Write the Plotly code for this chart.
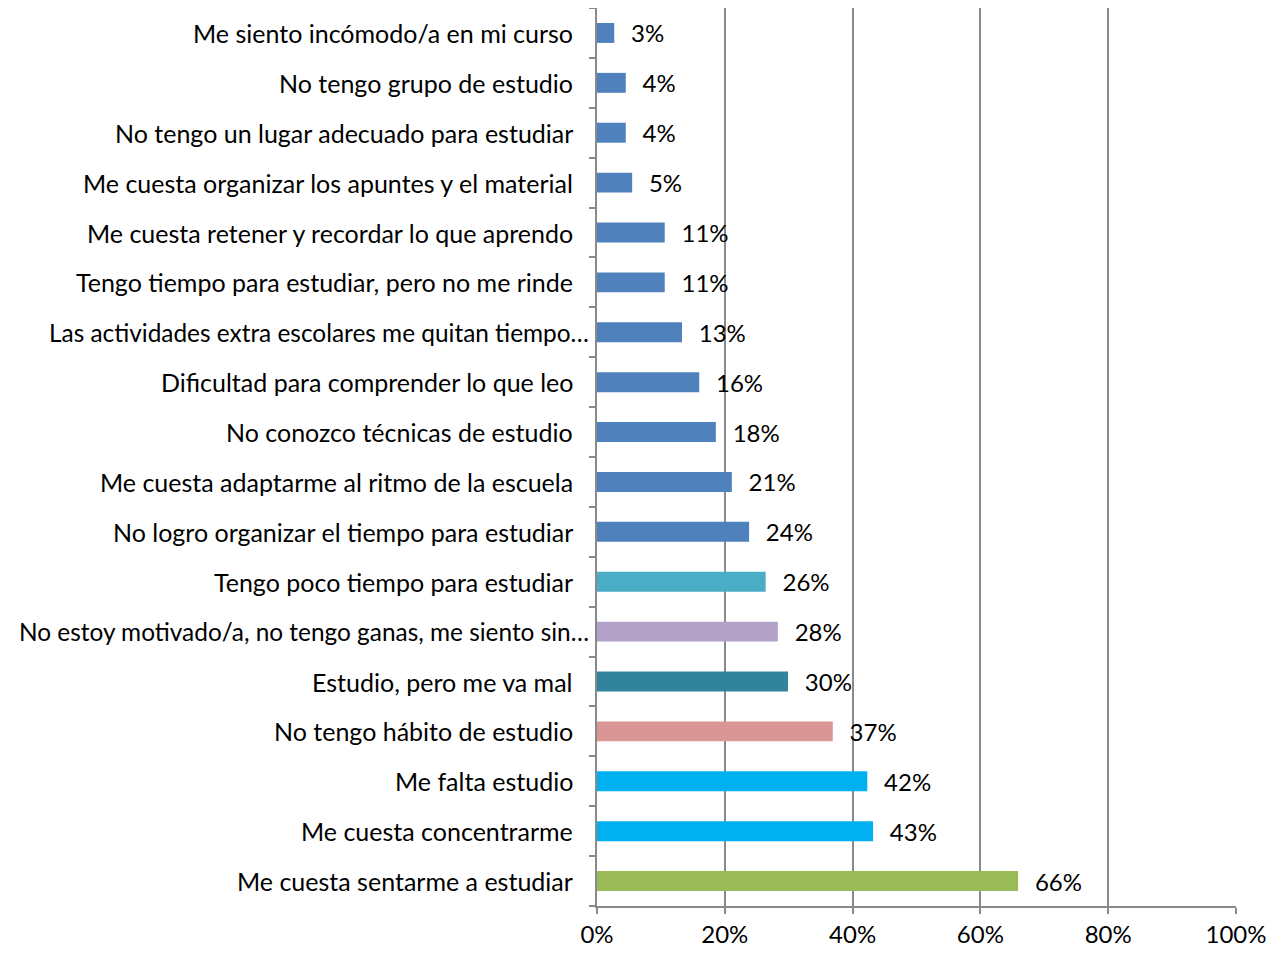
import plotly.graph_objects as go

# Categories listed bottom to top (plotly draws first category at the bottom)
categorias = [
    "Me cuesta sentarme a estudiar",
    "Me cuesta concentrarme",
    "Me falta estudio",
    "No tengo hábito de estudio",
    "Estudio, pero me va mal",
    "No estoy motivado/a, no tengo ganas, me siento sin…",
    "Tengo poco tiempo para estudiar",
    "No logro organizar el tiempo para estudiar",
    "Me cuesta adaptarme al ritmo de la escuela",
    "No conozco técnicas de estudio",
    "Dificultad para comprender lo que leo",
    "Las actividades extra escolares me quitan tiempo…",
    "Tengo tiempo para estudiar, pero no me rinde",
    "Me cuesta retener y recordar lo que aprendo",
    "Me cuesta organizar los apuntes y el material",
    "No tengo un lugar adecuado para estudiar",
    "No tengo grupo de estudio",
    "Me siento incómodo/a en mi curso",
]
valores = [0.659, 0.432, 0.423, 0.369, 0.299, 0.283, 0.264, 0.238, 0.211,
           0.186, 0.160, 0.133, 0.106, 0.106, 0.055, 0.045, 0.045, 0.027]
etiquetas = ["66%", "43%", "42%", "37%", "30%", "28%", "26%", "24%", "21%",
             "18%", "16%", "13%", "11%", "11%", "5%", "4%", "4%", "3%"]
colores = ["#9BBB59", "#00B0F0", "#00B0F0", "#D99694", "#31849B", "#B2A2C7",
           "#4BACC6"] + ["#4F81BD"] * 11

FONT = "Lato, Carlito, Calibri, sans-serif"
GRIS = "#8A8A8A"

fig = go.Figure(go.Bar(
    x=valores,
    y=categorias,
    orientation="h",
    marker=dict(color=colores, line=dict(width=0)),
    width=0.4,
    text=["\u00a0\u00a0\u200a" + t for t in etiquetas],
    textposition="outside",
    constraintext="none",
    cliponaxis=False,
    textfont=dict(family=FONT, size=24, color="#000000"),
))

# category labels as annotations: Excel sets truncated ("…") labels closer to the axis
for cat in categorias:
    truncada = cat.endswith("…")
    fig.add_annotation(
        x=0, xref="paper", y=cat, yref="y",
        text=cat, showarrow=False,
        xanchor="right", yanchor="middle",
        xshift=-6 if truncada else -22,
        font=dict(family=FONT, size=24.4 if truncada else 25, color="#000000"),
    )

# page body has an 8px margin, so the figure is shrunk to fit the window
fig.update_layout(
    width=1268,
    height=939,
    margin=dict(l=589, r=40, t=0, b=41),
    paper_bgcolor="white",
    plot_bgcolor="white",
    showlegend=False,
    font=dict(family=FONT, size=24, color="#000000"),
    xaxis=dict(
        range=[0, 1],
        tickvals=[0, 0.2, 0.4, 0.6, 0.8, 1.0],
        ticktext=["0%", "20%", "40%", "60%", "80%", "100%"],
        showgrid=True,
        gridcolor=GRIS,
        gridwidth=2,
        showline=True,
        linecolor=GRIS,
        linewidth=2,
        ticks="outside",
        ticklen=6,
        tickwidth=2,
        tickcolor=GRIS,
        zeroline=False,
        tickfont=dict(family=FONT, size=24),
        automargin=False,
    ),
    yaxis=dict(
        categoryorder="array",
        categoryarray=categorias,
        showgrid=False,
        showline=True,
        linecolor=GRIS,
        linewidth=2,
        ticks="outside",
        tickson="boundaries",
        ticklen=6,
        tickwidth=2,
        tickcolor=GRIS,
        showticklabels=False,
        automargin=False,
    ),
    bargap=0.6,
)

fig.write_html("out.html")
